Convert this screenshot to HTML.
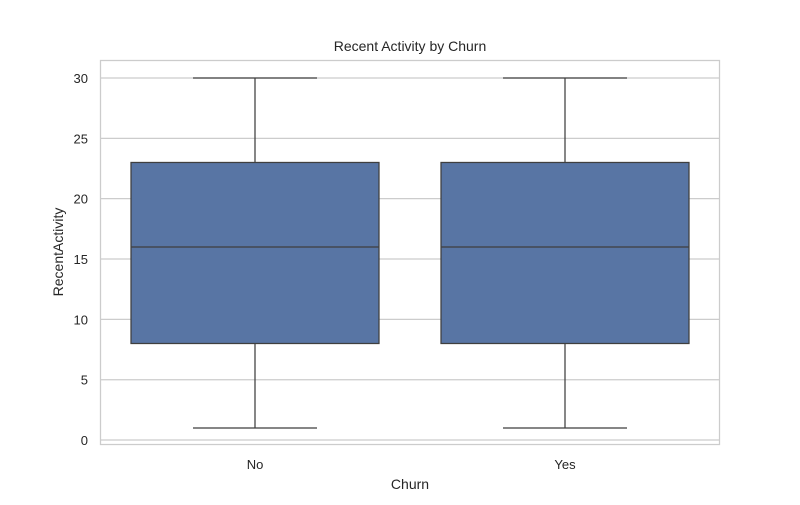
<!DOCTYPE html>
<html><head><meta charset="utf-8"><style>
body{margin:0;background:#fff;font-family:"Liberation Sans",sans-serif;}
svg text{font-family:"Liberation Sans",sans-serif;fill:#262626;}
</style></head><body>
<svg id="chart" width="800" height="500" viewBox="0 0 800 500">
<rect x="0" y="0" width="800" height="500" fill="#fff"/>
<g id="grid"></g>
<g id="boxes"></g>
<rect x="100.5" y="60.5" width="619" height="384" fill="none" stroke="#cccccc" stroke-width="1.25"/>
<g id="yticks"></g>
<g id="xticks"></g>
<text x="410" y="51" text-anchor="middle" font-size="14">Recent Activity by Churn</text>
<text x="410" y="489" text-anchor="middle" font-size="14">Churn</text>
<text transform="translate(63,252) rotate(-90)" text-anchor="middle" font-size="14">RecentActivity</text>
</svg>
<script>
const categories = ["No", "Yes"];
const whiskerLow = [1, 1];
const q1 = [8, 8];
const median = [16, 16];
const q3 = [23, 23];
const whiskerHigh = [30, 30];
const yTicks = [0, 5, 10, 15, 20, 25, 30];

const NS = "http://www.w3.org/2000/svg";
const plotL = 100, plotR = 720, plotT = 60, plotB = 445;
const yMin = -0.41, yMax = 31.49;
function y(v){ return plotB - (v - yMin) / (yMax - yMin) * (plotB - plotT); }
const band = (plotR - plotL) / categories.length;
function xc(i){ return plotL + band * (i + 0.5); }
function mk(tag, attrs, parent){
  const e = document.createElementNS(NS, tag);
  for (const k in attrs) e.setAttribute(k, attrs[k]);
  parent.appendChild(e); return e;
}
const grid = document.getElementById("grid");
const yt = document.getElementById("yticks");
yTicks.forEach(t => {
  const l = mk("line", {x1: plotL, x2: plotR, y1: y(t), y2: y(t), stroke: "#cccccc", "stroke-width": 1.25}, grid);
  
  
  const tx = mk("text", {x: 88, y: y(t) + 5, "text-anchor": "end", "font-size": 13}, yt);
  tx.textContent = t;
  
  
});
const boxes = document.getElementById("boxes");
const xt = document.getElementById("xticks");
const bw = band * 0.8;
const lc = "#3f3f3f";
categories.forEach((c, i) => {
  const cx = xc(i);
  const g = mk("g", {}, boxes);
  
  
  mk("line", {x1: cx, x2: cx, y1: y(whiskerHigh[i]), y2: y(q3[i]), stroke: lc, "stroke-width": 1.25}, g);
  mk("line", {x1: cx, x2: cx, y1: y(q1[i]), y2: y(whiskerLow[i]), stroke: lc, "stroke-width": 1.25}, g);
  mk("line", {x1: cx - bw / 4, x2: cx + bw / 4, y1: y(whiskerHigh[i]), y2: y(whiskerHigh[i]), stroke: lc, "stroke-width": 1.25}, g);
  mk("line", {x1: cx - bw / 4, x2: cx + bw / 4, y1: y(whiskerLow[i]), y2: y(whiskerLow[i]), stroke: lc, "stroke-width": 1.25}, g);
  mk("rect", {x: cx - bw / 2, y: y(q3[i]), width: bw, height: y(q1[i]) - y(q3[i]), fill: "#5875a4", stroke: lc, "stroke-width": 1.25}, g);
  mk("line", {x1: cx - bw / 2, x2: cx + bw / 2, y1: y(median[i]), y2: y(median[i]), stroke: lc, "stroke-width": 1.25}, g);
  const tx = mk("text", {x: cx, y: 469, "text-anchor": "middle", "font-size": 13}, xt);
  tx.textContent = c;
  
  
});
</script>
</body></html>
